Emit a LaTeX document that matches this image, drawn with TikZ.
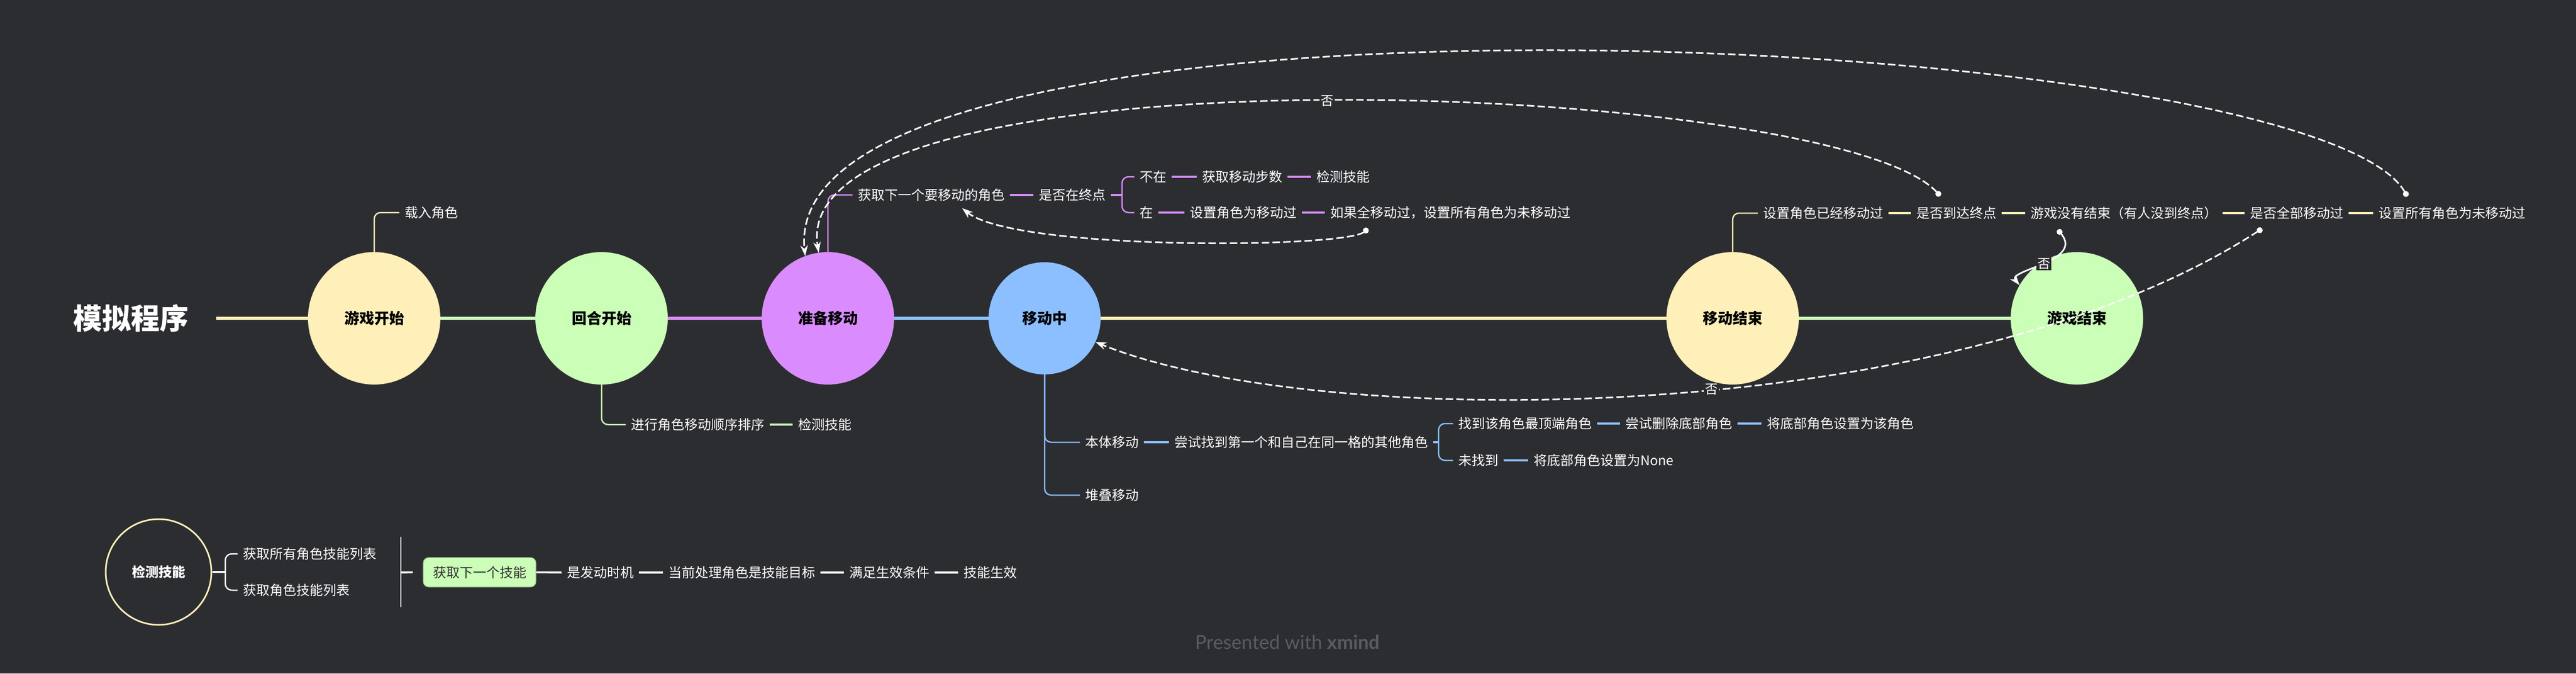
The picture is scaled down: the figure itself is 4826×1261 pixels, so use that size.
\documentclass[tikz,border=0pt]{standalone}
\usepackage{fontspec}
\setmainfont{Noto Sans CJK SC}
\newfontfamily\footfont{Lato}
\usetikzlibrary{arrows.meta,calc}
\definecolor{bg}{HTML}{2C2D31}
\definecolor{cy}{HTML}{FFEFB8}
\definecolor{cg}{HTML}{CBFFB8}
\definecolor{cp}{HTML}{DA8CFF}
\definecolor{cb}{HTML}{8BBFFF}
\definecolor{foot}{HTML}{5A5B5F}
\definecolor{boxtext}{HTML}{333333}
\definecolor{boxedge}{HTML}{9DC490}
\begin{document}
\begin{tikzpicture}[x=1pt,y=-1pt,
  mainc/.style={circle,inner sep=0pt,minimum size=248pt,text=black,font=\fontsize{28}{32}\selectfont\bfseries},
  txt/.style={anchor=west,inner xsep=10pt,inner ysep=4pt,text=white,font=\fontsize{25}{30}\selectfont},
  mainline/.style={line width=6pt},
  br/.style={line width=2.5pt,rounded corners=12pt},
  conn/.style={line width=3.5pt},
  rel/.style={white,line width=3pt,dash pattern=on 14pt off 6pt,{Circle[length=11pt]}-{Stealth[length=20pt,width=14pt]}},
  relsolid/.style={white,line width=3pt,{Circle[length=11pt]}-{Stealth[length=20pt,width=14pt]}},
  lbl/.style={fill=bg,text=white,inner sep=2pt,font=\fontsize{24}{28}\selectfont}]
\useasboundingbox (0,0) rectangle (4826,1261);
\fill[bg] (0,0) rectangle (4826,1261);

% title and main topics
\node[text=white,inner xsep=52pt,font=\fontsize{54}{60}\selectfont\bfseries] (title) at (245,596) {模拟程序};
\node[mainc,fill=cy] (c1) at (701,596) {游戏开始};
\node[mainc,fill=cg] (c2) at (1127,596) {回合开始};
\node[mainc,fill=cp] (c3) at (1551,596) {准备移动};
\node[mainc,fill=cb,minimum size=210pt] (c4) at (1957,596) {移动中};
\node[mainc,fill=cy] (c5) at (3246,596) {移动结束};
\node[mainc,fill=cg] (c6) at (3891,596) {游戏结束};

\draw[mainline,cy] (title.east) -- (c1.west);
\draw[mainline,cg] (c1.east) -- (c2.west);
\draw[mainline,cp] (c2.east) -- (c3.west);
\draw[mainline,cb] (c3.east) -- (c4.west);
\draw[mainline,cy] (c4.east) -- (c5.west);
\draw[mainline,cg] (c5.east) -- (c6.west);

% group 1
\node[txt] (tload) at (748,398) {载入角色};
\draw[br,cy] (c1.north) |- (tload.west);

% group 2
\node[txt] (tsort) at (1172,795) {进行角色移动顺序排序};
\node[txt] (tsortskill) at (1485,795) {检测技能};
\draw[br,cg] (c2.south) |- (tsort.west);
\draw[conn,cg] (tsort.east) -- (tsortskill.west);

% group 3
\node[txt] (tnext) at (1597,365) {获取下一个要移动的角色};
\node[txt] (tifend) at (1936,365) {是否在终点};
\node[txt] (tno) at (2125,331) {不在};
\node[txt] (tsteps) at (2242,331) {获取移动步数};
\node[txt] (tskill2) at (2456,331) {检测技能};
\node[txt] (tyes) at (2125,398) {在};
\node[txt] (tsetmoved) at (2219,398) {设置角色为移动过};
\node[txt] (tifall) at (2482,398) {如果全移动过，设置所有角色为未移动过};
\coordinate (b1) at (2102,365);
\draw[br,cp] (c3.north) |- (tnext.west);
\draw[conn,cp] (tnext.east) -- (tifend.west);
\draw[conn,cp] (tifend.east) -- (b1);
\draw[br,cp] (b1) |- (tno.west);
\draw[br,cp] (b1) |- (tyes.west);
\draw[conn,cp] (tno.east) -- (tsteps.west);
\draw[conn,cp] (tsteps.east) -- (tskill2.west);
\draw[conn,cp] (tyes.east) -- (tsetmoved.west);
\draw[conn,cp] (tsetmoved.east) -- (tifall.west);

% group 4
\node[txt] (tbody) at (2023,828) {本体移动};
\node[txt] (ttry) at (2190,828) {尝试找到第一个和自己在同一格的其他角色};
\node[txt] (tfound) at (2722,793) {找到该角色最顶端角色};
\node[txt] (tdel) at (3035,793) {尝试删除底部角色};
\node[txt] (tsetbot) at (3300,793) {将底部角色设置为该角色};
\node[txt] (tnf) at (2722,862) {未找到};
\node[txt] (tnone) at (2863,862) {将底部角色设置为None};
\node[txt] (tstack) at (2023,927) {堆叠移动};
\coordinate (b2) at (2695,828);
\draw[br,cb] (c4.south) |- (tbody.west);
\draw[br,cb] (c4.south) |- (tstack.west);
\draw[conn,cb] (tbody.east) -- (ttry.west);
\draw[conn,cb] (ttry.east) -- (b2);
\draw[br,cb] (b2) |- (tfound.west);
\draw[br,cb] (b2) |- (tnf.west);
\draw[conn,cb] (tfound.east) -- (tdel.west);
\draw[conn,cb] (tdel.east) -- (tsetbot.west);
\draw[conn,cb] (tnf.east) -- (tnone.west);

% group 5
\node[txt] (talready) at (3293,399) {设置角色已经移动过};
\node[txt] (treach) at (3580,399) {是否到达终点};
\node[txt] (tnotend) at (3794,399) {游戏没有结束（有人没到终点）};
\node[txt] (tallmoved) at (4205,399) {是否全部移动过};
\node[txt] (tresetall) at (4446,399) {设置所有角色为未移动过};
\draw[br,cy] (c5.north) |- (talready.west);
\draw[conn,cy] (talready.east) -- (treach.west);
\draw[conn,cy] (treach.east) -- (tnotend.west);
\draw[conn,cy] (tnotend.east) -- (tallmoved.west);
\draw[conn,cy] (tallmoved.east) -- (tresetall.west);

% bottom floating group
\node[circle,draw=cy,line width=3pt,fill=bg,inner sep=0pt,minimum size=198pt,text=white,font=\fontsize{25}{30}\selectfont\bfseries] (k) at (297,1071) {检测技能};
\node[txt] (tallskills) at (445,1037) {获取所有角色技能列表};
\node[txt] (troleskills) at (445,1105) {获取角色技能列表};
\coordinate (b3) at (422,1071);
\draw[conn,white] (k.east) -- (b3);
\draw[br,white] (b3) |- (tallskills.west);
\draw[br,white] (b3) |- (troleskills.west);
\coordinate (sepT) at (751,1005);
\coordinate (sepB) at (751,1137);
\coordinate (sepM) at (751,1072);
\draw[white,line width=2pt] (sepT) -- (sepB);
\node[rounded corners=10pt,fill=cg,draw=boxedge,line width=1.2pt,minimum width=211pt,minimum height=55pt,inner sep=0pt,text=boxtext,font=\fontsize{25}{30}\selectfont] (box) at (898.5,1071.5) {获取下一个技能};
\draw[conn,white] (sepM) -- ([xshift=-19pt]box.west);
\node[txt] (ttiming) at (1052,1072) {是发动时机};
\node[txt] (ttarget) at (1242,1072) {当前处理角色是技能目标};
\node[txt] (tcond) at (1581,1072) {满足生效条件};
\node[txt] (teffect) at (1795,1072) {技能生效};
\draw[conn,white] (box.east) -- (ttiming.west);
\draw[conn,white] (ttiming.east) -- (ttarget.west);
\draw[conn,white] (ttarget.east) -- (tcond.west);
\draw[conn,white] (tcond.east) -- (teffect.west);

% relationships
\coordinate (d1) at (2563,428);
\coordinate (d2) at (3635,367);
\coordinate (d3) at (4510,368);
\coordinate (d4) at (3855,430);
\coordinate (d5) at (4238,428);
\draw[rel] (d1) .. controls (2520,465) and (1900,470) .. ($(tnext.south)+(58,9)$);
\draw[rel] (d2) .. controls (3437,150) and (1470,75) .. (c3.98) node[pos=0.5,lbl] {否};
\draw[rel] (d3) .. controls (4330,50) and (1450,-75) .. (c3.110);
\draw[relsolid] (d4) .. controls (3905,490) and (3760,505) .. (c6.150) node[pos=0.5,lbl] {否};
\draw[rel] (d5) .. controls (3650,808) and (2464,808) .. (c4.-25) node[pos=0.45,lbl] {否};

% footer
\node[text=foot,font=\footfont\fontsize{36}{42}\selectfont] (foot) at (2412,1202) {Presented with \textbf{xmind}};
\end{tikzpicture}
\end{document}
